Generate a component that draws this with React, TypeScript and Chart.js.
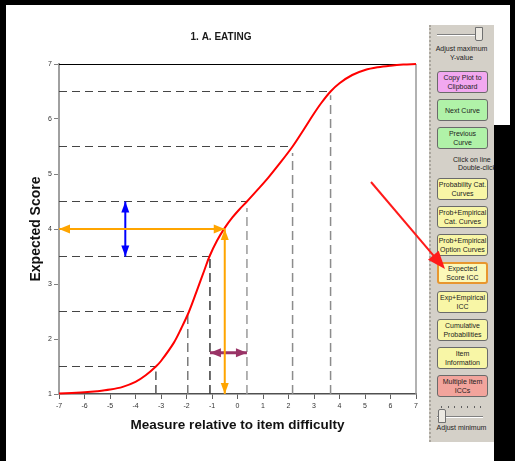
import React, { useEffect, useRef } from "react";
import { Chart, registerables } from "chart.js";

Chart.register(...registerables);

// ---------- data ----------
const chartTitle = "1. A. EATING";
const xAxisTitle = "Measure relative to item difficulty";
const yAxisTitle = "Expected Score";

const xMin = -7;
const xMax = 7;
const yMin = 1;
const yMax = 7;

const curveMeasures = [
  -7, -6.5, -6, -5.5, -5, -4.5, -4, -3.6, -3.2, -3.0, -2.5, -2.2, -1.9, -1.6,
  -1.3, -1.1, -0.8, -0.5, -0.2, 0.1, 0.37, 0.8, 1.2, 1.6, 2.16, 2.6, 3.0, 3.3,
  3.65, 4.0, 4.5, 5.0, 5.5, 6.0, 6.5, 7.0,
];
const curveScores = [
  1.01, 1.02, 1.03, 1.05, 1.08, 1.13, 1.22, 1.34, 1.5, 1.6, 1.93, 2.2, 2.5,
  2.87, 3.25, 3.5, 3.79, 4.02, 4.21, 4.37, 4.5, 4.72, 4.93, 5.16, 5.5, 5.81,
  6.1, 6.3, 6.5, 6.65, 6.8, 6.89, 6.94, 6.97, 6.99, 7.0,
];

// half-point score levels and the measures where the curve reaches them
const levelScores = [1.5, 2.5, 3.5, 4.5, 5.5, 6.5];
const levelMeasures = [-3.2, -1.95, -1.08, 0.37, 2.16, 3.65];
const dropLineTops = [1.41, 2.43, 3.5, 4.38, 5.38, 6.43];

// expected-score lookup arrows (orange)
const lookupMeasure = -0.5;
const lookupScore = 4.0;

// score band arrow (blue) and measure band arrow (purple)
const scoreBandMeasure = -4.4;
const scoreBand = [3.5, 4.5];
const measureBandScore = 1.75;
const measureBand = [-1.08, 0.37];

// right-hand panel
const panelButtons = [
  ["Copy Plot to", "Clipboard"],
  ["Next Curve"],
  ["Previous", "Curve"],
  ["Probability Cat.", "Curves"],
  ["Prob+Empirical", "Cat. Curves"],
  ["Prob+Empirical", "Option Curves"],
  ["Expected", "Score ICC"],
  ["Exp+Empirical", "ICC"],
  ["Cumulative", "Probabilities"],
  ["Item", "Information"],
  ["Multiple Item", "ICCs"],
];

// ---------- styles ----------
const FONT = "'Liberation Sans', Arial, sans-serif";
const dropColors = ["#555555", "#7a7a7a", "#3a3a3a", "#9a9a9a", "#8c8c8c", "#8c8c8c"];
const buttonTops = [46, 74, 102, 153, 181, 209, 237, 266, 294, 322, 350];
const buttonColors = [
  "#f2a8f0", "#b0f2a8", "#b0f2a8", "#f8f6a6", "#f8f6a6", "#f8f6a6",
  "#fbf8b8", "#f8f6a6", "#f8f6a6", "#f8f6a6", "#f2a49c",
];

function drawHead(ctx: CanvasRenderingContext2D, fx: number, fy: number, tx: number, ty: number, len: number, w: number, color: string) {
  const ang = Math.atan2(ty - fy, tx - fx);
  ctx.save();
  ctx.translate(tx, ty);
  ctx.rotate(ang);
  ctx.beginPath();
  ctx.moveTo(0, 0);
  ctx.lineTo(-len, w / 2);
  ctx.lineTo(-len, -w / 2);
  ctx.closePath();
  ctx.fillStyle = color;
  ctx.fill();
  ctx.restore();
}

const arrowPlugin = {
  id: "arrowHeads",
  afterDatasetsDraw(chart: any) {
    const ctx = chart.ctx;
    chart.data.datasets.forEach((ds: any, i: number) => {
      if (!ds.arrowHead) return;
      const pts = chart.getDatasetMeta(i).data;
      const a = pts[0];
      const b = pts[pts.length - 1];
      const { len, w } = ds.arrowHead;
      drawHead(ctx, b.x, b.y, a.x, a.y, len, w, ds.borderColor);
      drawHead(ctx, a.x, a.y, b.x, b.y, len, w, ds.borderColor);
    });
  },
};

const framePlugin = {
  id: "frame",
  beforeDatasetsDraw(chart: any) {
    const { ctx, chartArea } = chart;
    ctx.save();
    ctx.strokeStyle = "#000000";
    ctx.lineWidth = 1;
    ctx.beginPath();
    ctx.moveTo(chartArea.left, chartArea.top + 0.5);
    ctx.lineTo(chartArea.right, chartArea.top + 0.5);
    ctx.stroke();
    ctx.strokeStyle = "#999999";
    ctx.lineWidth = 1.5;
    ctx.beginPath();
    ctx.moveTo(chartArea.right, chartArea.top);
    ctx.lineTo(chartArea.right, chartArea.bottom);
    ctx.stroke();
    ctx.restore();
  },
};

function ChartCanvas() {
  const ref = useRef<HTMLCanvasElement | null>(null);
  useEffect(() => {
    if (!ref.current) return;
    const datasets: any[] = [];
    datasets.push({
      data: curveMeasures.map((x, i) => ({ x, y: curveScores[i] })),
      borderColor: "#ff0000",
      borderWidth: 2,
      pointRadius: 0,
      tension: 0.35,
      clip: false,
      order: 1,
    });
    levelScores.forEach((s, i) => {
      datasets.push({
        data: [{ x: xMin, y: s }, { x: levelMeasures[i], y: s }],
        borderColor: "#454545",
        borderWidth: 1,
        borderDash: [8, 5],
        pointRadius: 0,
        order: 2,
      });
      datasets.push({
        data: [{ x: levelMeasures[i], y: yMin }, { x: levelMeasures[i], y: dropLineTops[i] }],
        borderColor: dropColors[i],
        borderWidth: 1.5,
        borderDash: [9, 5],
        pointRadius: 0,
        order: 2,
      });
    });
    datasets.push({
      data: [{ x: xMin, y: lookupScore }, { x: lookupMeasure, y: lookupScore }],
      borderColor: "#ffa500",
      borderWidth: 2,
      pointRadius: 0,
      clip: false,
      order: 0,
      arrowHead: { len: 11, w: 9 },
    });
    datasets.push({
      data: [{ x: lookupMeasure, y: lookupScore }, { x: lookupMeasure, y: yMin }],
      borderColor: "#ffa500",
      borderWidth: 2,
      pointRadius: 0,
      clip: false,
      order: 0,
      arrowHead: { len: 11, w: 8 },
    });
    datasets.push({
      data: [{ x: scoreBandMeasure, y: scoreBand[0] }, { x: scoreBandMeasure, y: scoreBand[1] }],
      borderColor: "#0000ff",
      borderWidth: 2,
      pointRadius: 0,
      order: 0,
      arrowHead: { len: 11, w: 8 },
    });
    datasets.push({
      data: [{ x: measureBand[0], y: measureBandScore }, { x: measureBand[1], y: measureBandScore }],
      borderColor: "#993366",
      borderWidth: 3,
      pointRadius: 0,
      order: 0,
      arrowHead: { len: 11, w: 9 },
    });

    const tickFont = { family: FONT, size: 7 };
    const chart = new Chart(ref.current, {
      type: "line",
      data: { datasets },
      plugins: [framePlugin, arrowPlugin],
      options: {
        animation: false,
        responsive: false,
        events: [],
        layout: { padding: { left: 20, right: 20, top: 0, bottom: 0 } },
        plugins: {
          legend: { display: false },
          tooltip: { enabled: false },
          title: {
            display: true,
            text: chartTitle,
            color: "#1a1a1a",
            font: { family: FONT, size: 10, weight: "bold" },
            padding: { top: 26, bottom: 21 },
          },
        },
        scales: {
          x: {
            type: "linear",
            min: xMin,
            max: xMax,
            ticks: { stepSize: 1, color: "#333", font: tickFont, padding: 3, maxRotation: 0 },
            grid: { drawOnChartArea: false, color: "#606060", tickLength: 5 },
            border: { color: "#505050", width: 1.5 },
            title: {
              display: true,
              text: xAxisTitle,
              color: "#111",
              font: { family: FONT, size: 13.5, weight: "bold" },
              padding: { top: 0, bottom: 28 },
            },
            afterFit: (scale: any) => {
              scale.height = 67;
            },
          },
          y: {
            type: "linear",
            min: yMin,
            max: yMax,
            ticks: { stepSize: 1, color: "#333", font: tickFont, padding: 2 },
            grid: { drawOnChartArea: false, color: "#808080", tickLength: 5 },
            border: { color: "#a0a0a0", width: 2 },
            title: {
              display: true,
              text: yAxisTitle,
              color: "#111",
              font: { family: FONT, size: 14, weight: "bold" },
              padding: { top: 1.6, bottom: 0 },
            },
            afterFit: (scale: any) => {
              scale.width = 33;
            },
          },
        },
      } as any,
    });
    return () => chart.destroy();
  }, []);
  return (
    <canvas
      ref={ref}
      width={430}
      height={456}
      style={{ position: "absolute", left: 6, top: 5, width: 430, height: 456 }}
    />
  );
}

function Panel() {
  const textStyle: React.CSSProperties = {
    position: "absolute",
    fontFamily: FONT,
    fontSize: 7,
    lineHeight: "9px",
    color: "#222",
    whiteSpace: "nowrap",
  };
  return (
    <div
      style={{
        position: "absolute",
        left: 429,
        top: 25,
        width: 65,
        height: 417,
        background: "#d4d0c8",
        overflow: "hidden",
      }}
    >
      <div style={{ position: "absolute", left: 0, top: 0, width: 0, height: 417, borderLeft: "2px dotted #aaa69e" }} />
      {/* top slider */}
      <div style={{ position: "absolute", left: 8, top: 9, width: 42, height: 0, borderTop: "1px solid #808080", borderBottom: "1px solid #ffffff" }} />
      <div style={{ position: "absolute", left: 46, top: 2, width: 6, height: 12, background: "#ece9e2", border: "1px solid #707070", borderRadius: "0 0 2px 2px" }} />
      <div style={{ ...textStyle, left: 0, width: 65, top: 19, textAlign: "center" }}>
        Adjust maximum<br />Y-value
      </div>
      {panelButtons.map((lines, i) => {
        const selected = i === 6;
        return (
          <div
            key={i}
            style={{
              position: "absolute",
              left: 8,
              top: buttonTops[i],
              width: 51,
              height: 22,
              boxSizing: "border-box",
              background: buttonColors[i],
              border: selected ? "2px solid #e8962e" : "1px solid #6a6a6a",
              borderRadius: 3,
              display: "flex",
              alignItems: "center",
              justifyContent: "center",
              textAlign: "center",
              fontFamily: FONT,
              fontSize: 7,
              lineHeight: "9px",
              color: "#222",
              whiteSpace: "nowrap",
              overflow: "hidden",
            }}
          >
            <div>
              {lines.map((l, j) => (
                <div key={j}>{l}</div>
              ))}
            </div>
          </div>
        );
      })}
      <div style={{ ...textStyle, left: 24, top: 130 }}>Click on line</div>
      <div style={{ ...textStyle, left: 29, top: 138 }}>Double-click</div>
      {/* bottom slider */}
      {[0, 1, 2, 3, 4, 5, 6].map((k) => (
        <div key={k} style={{ position: "absolute", left: 12 + k * 6.5, top: 381, width: 1, height: 2, background: "#606060" }} />
      ))}
      <div style={{ position: "absolute", left: 8, top: 391, width: 46, height: 0, borderTop: "1px solid #808080", borderBottom: "1px solid #ffffff" }} />
      <div style={{ position: "absolute", left: 9, top: 384, width: 6, height: 12, background: "#ece9e2", border: "1px solid #707070", borderRadius: "2px 2px 0 0" }} />
      <div style={{ ...textStyle, left: 0, width: 65, top: 398, textAlign: "center" }}>Adjust minimum</div>
      <div style={{ ...textStyle, left: 0, width: 65, top: 415, textAlign: "center" }}>Y-value</div>
    </div>
  );
}

export default function App() {
  // pointer arrow to the selected button
  const sx = 371, sy = 182, tx = 445, ty = 269;
  const dx = tx - sx, dy = ty - sy;
  const L = Math.hypot(dx, dy);
  const ux = dx / L, uy = dy / L;
  const hl = 18, hw = 7;
  const bx = tx - ux * hl, by = ty - uy * hl;
  const p1 = `${bx - uy * hw},${by + ux * hw}`;
  const p2 = `${bx + uy * hw},${by - ux * hw}`;
  return (
    <div
      style={{
        position: "fixed",
        left: 0,
        top: 0,
        width: 515,
        height: 461,
        background: "#ffffff",
        overflow: "hidden",
      }}
    >
      <ChartCanvas />
      <Panel />
      <div style={{ position: "absolute", left: 0, top: 0, width: 515, height: 5, background: "#000" }} />
      <div style={{ position: "absolute", left: 0, top: 0, width: 6, height: 461, background: "#000" }} />
      <div style={{ position: "absolute", left: 510, top: 0, width: 5, height: 461, background: "#000" }} />
      <div style={{ position: "absolute", left: 494, top: 125, width: 21, height: 336, background: "#000" }} />
      <svg width={515} height={461} style={{ position: "absolute", left: 0, top: 0, pointerEvents: "none" }}>
        <line x1={sx} y1={sy} x2={bx + ux * 2} y2={by + uy * 2} stroke="#ff1a1a" strokeWidth={2} />
        <polygon points={`${tx},${ty} ${p1} ${p2}`} fill="#ff1a1a" />
      </svg>
    </div>
  );
}
